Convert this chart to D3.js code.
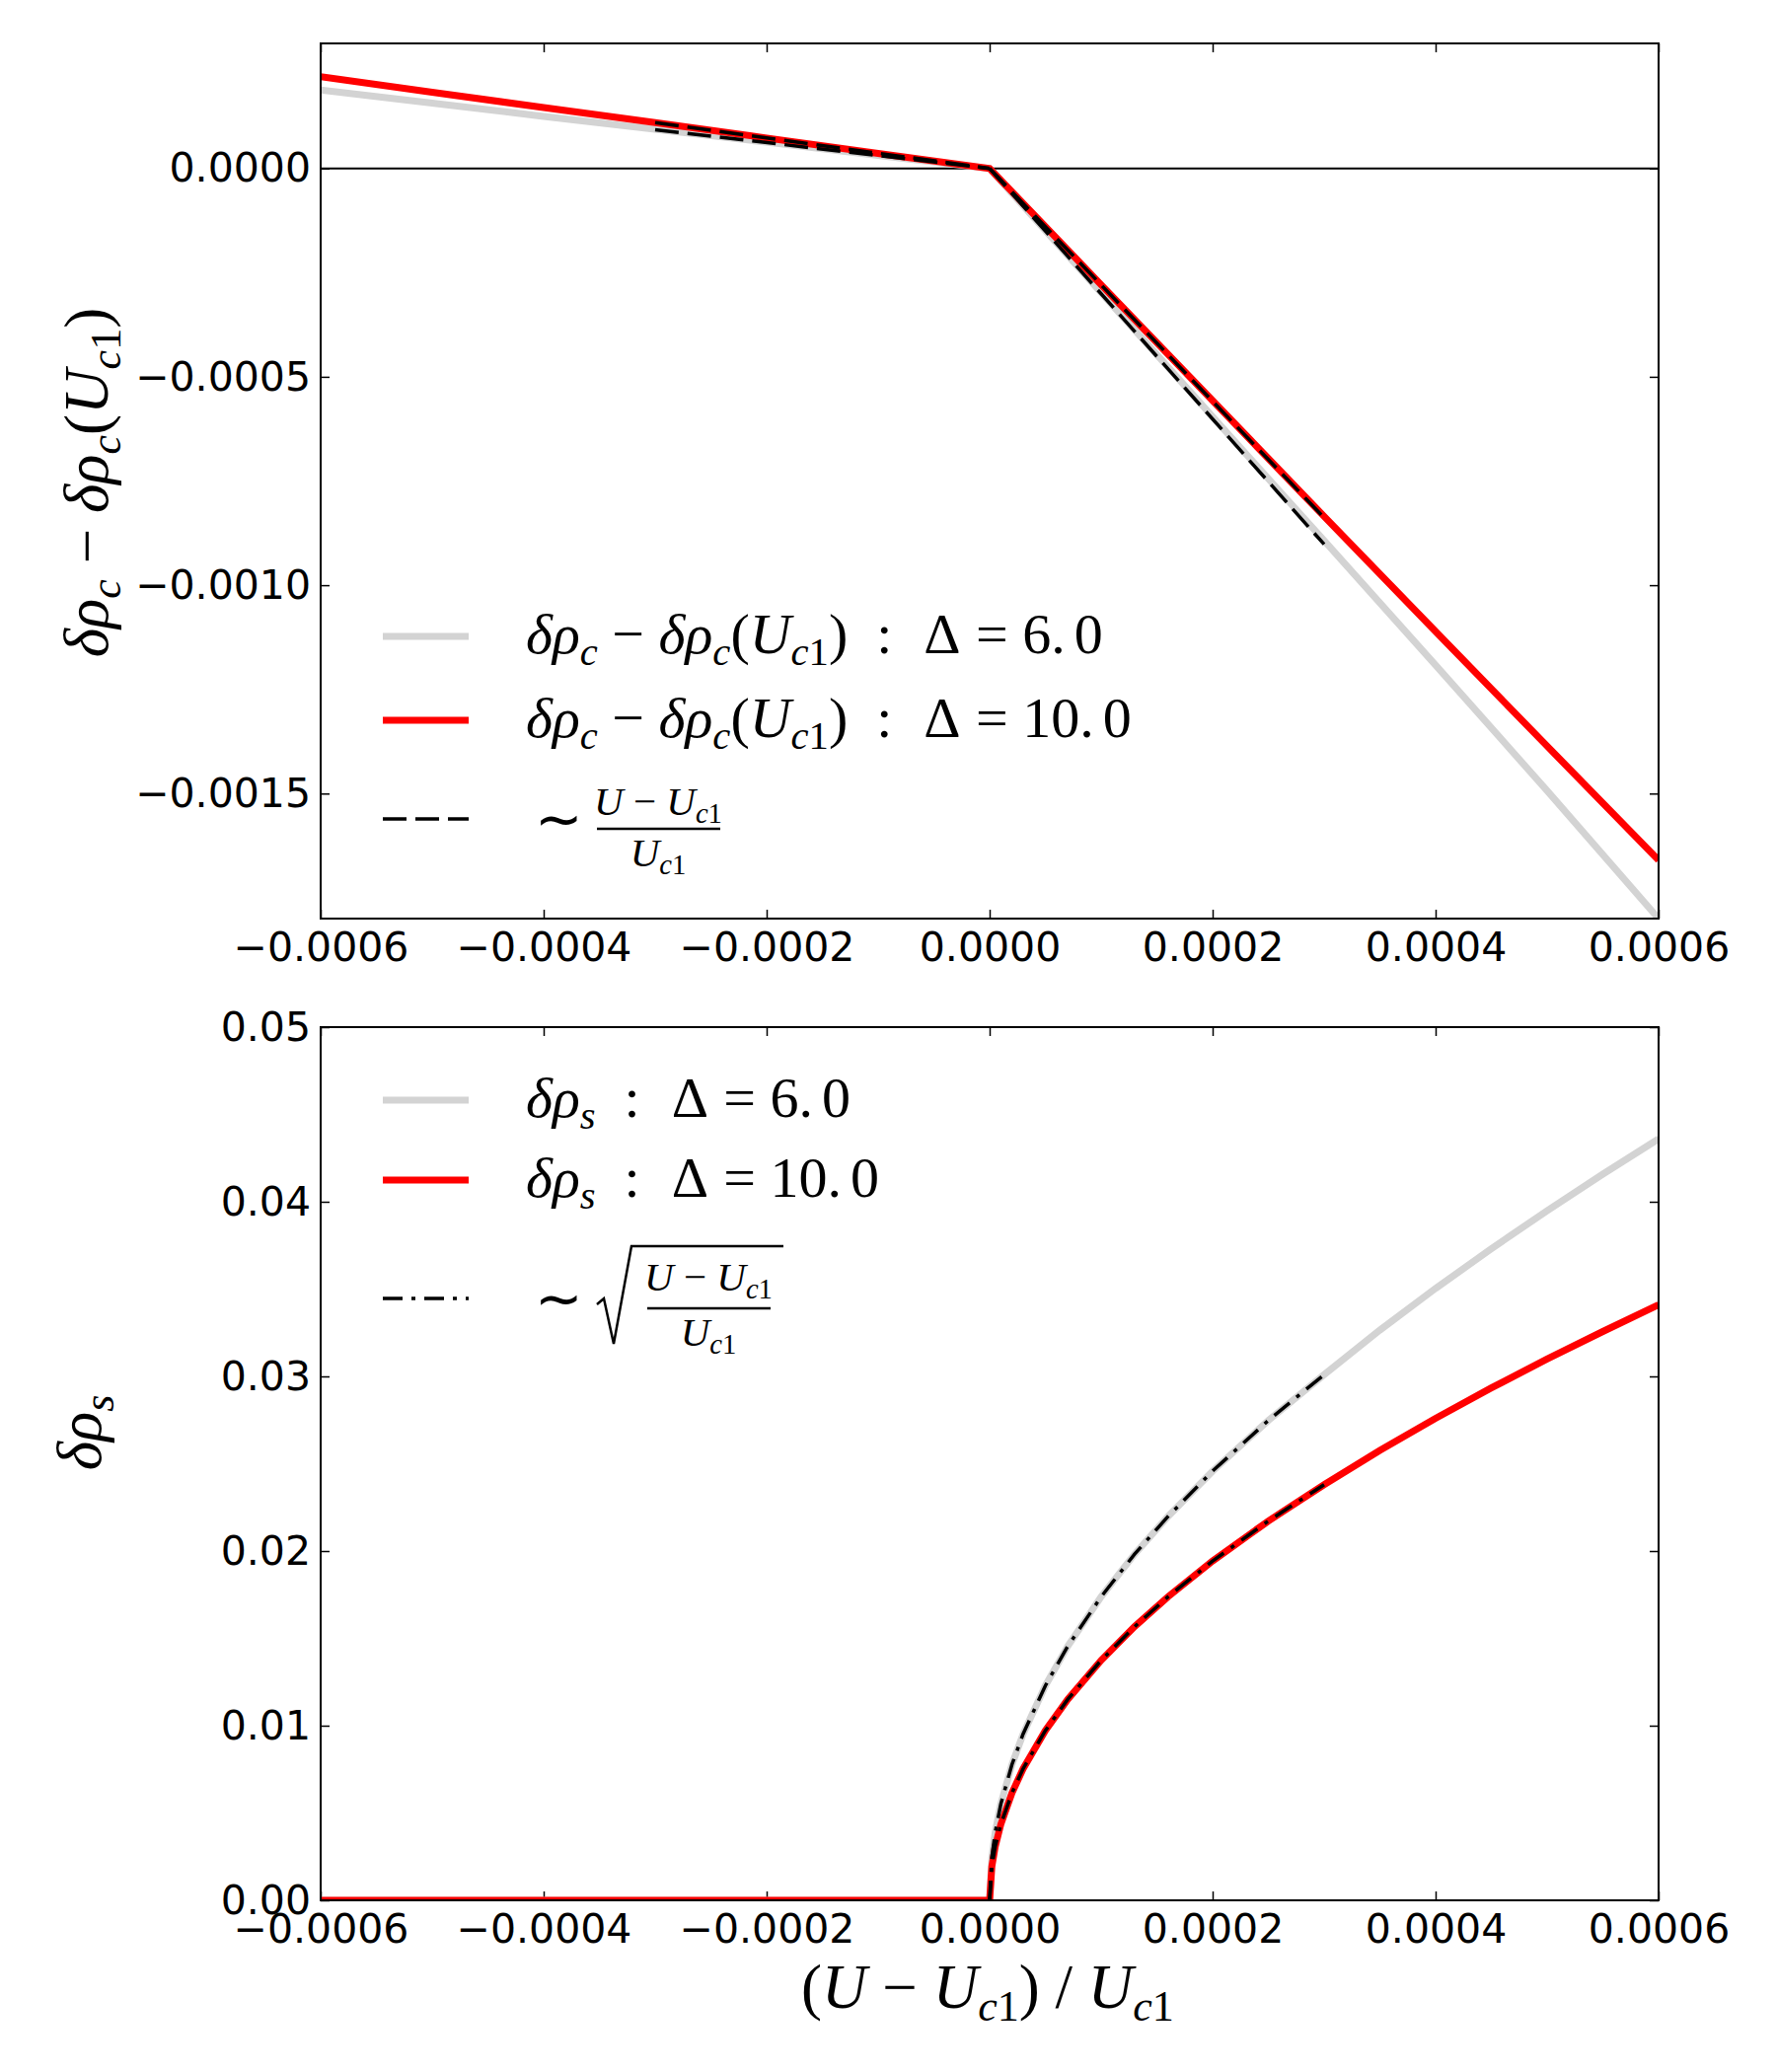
<!DOCTYPE html>
<html>
<head>
<meta charset="utf-8">
<script src="https://cdn.jsdelivr.net/npm/d3@7"></script>
<style>
  body { margin: 0; background: #fff; }
  text { white-space: pre; }
</style>
</head>
<body>
<div id="chart"></div>
<script>
// ---- data ----
const xTicks = [-0.0006, -0.0004, -0.0002, 0, 0.0002, 0.0004, 0.0006];
const cTicks = [0, -0.0005, -0.001, -0.0015];
const sTicks = [0, 0.01, 0.02, 0.03, 0.04, 0.05];

// top panel: delta rho_c - delta rho_c(Uc1)
const cX = [-0.0006, -0.0005, -0.0004, -0.0003, -0.0002, -0.0001, 0, 0.0001, 0.0002, 0.0003, 0.0004, 0.0005, 0.0006];
const cGrey = [0.000188, 0.000157, 0.000125, 0.000094, 0.000063, 0.000031, 0, -0.000298, -0.000596, -0.000893, -0.001192, -0.001493, -0.0018];
const cRed = [0.00022, 0.000183, 0.000146, 0.00011, 0.000073, 0.000036, 0, -0.000279, -0.000557, -0.000835, -0.001111, -0.001386, -0.00166];
const cFitLeftX = [-0.0003, 0];
const cFitRightX = [0, 0.0003];
const cFitGreyLeft = [0.000093, 0];
const cFitGreyRight = [0, -0.000902];
const cFitRedLeft = [0.00011, 0];
const cFitRedRight = [0, -0.000838];

// bottom panel: delta rho_s
const sX = [-0.0006, -0.0004, -0.0002, 0, 0.000002, 0.000005, 0.00001, 0.00002, 0.00003, 0.00005, 0.00007, 0.0001, 0.00013, 0.00016, 0.0002, 0.00025, 0.0003, 0.00035, 0.0004, 0.00045, 0.0005, 0.00055, 0.0006];
const sGrey = [0, 0, 0, 0, 0.00246, 0.00389, 0.0055, 0.00777, 0.00952, 0.01229, 0.01454, 0.01738, 0.01982, 0.02198, 0.02458, 0.02748, 0.0301, 0.03265, 0.03504, 0.03731, 0.03949, 0.04158, 0.0436];
const sRed = [0, 0, 0, 0, 0.00194, 0.00307, 0.00434, 0.00614, 0.00753, 0.00972, 0.0115, 0.01374, 0.01567, 0.01738, 0.01943, 0.02172, 0.0238, 0.02576, 0.0276, 0.02934, 0.03099, 0.03257, 0.0341];
const sFitX = [0, 0.000002, 0.000005, 0.00001, 0.00002, 0.00003, 0.00005, 0.00007, 0.0001, 0.00013, 0.00016, 0.0002, 0.00025, 0.0003];
const sFitGrey = [0, 0.00246, 0.00389, 0.0055, 0.00777, 0.00952, 0.01229, 0.01454, 0.01738, 0.01982, 0.02198, 0.02458, 0.02748, 0.0301];
const sFitRed = [0, 0.00194, 0.00307, 0.00434, 0.00614, 0.00753, 0.00972, 0.0115, 0.01374, 0.01567, 0.01738, 0.01943, 0.02172, 0.0238];

// ---- layout ----
const width = 1800, height = 2100;
const left = 325, right = 1681;
const panels = {
  top: { y0: 44, y1: 931 },
  bot: { y0: 1041, y1: 1926 }
};
const GREY = "#d3d3d3", RED = "#ff0000";
const SANS = "'DejaVu Sans', sans-serif";
const SERIF = "'Liberation Serif', 'Times New Roman', serif";

const svg = d3.select("#chart").append("svg")
  .attr("width", width)
  .attr("height", height)
  .style("background", "#fff");

const x = d3.scaleLinear().domain([-0.0006, 0.0006]).range([left, right]);
const yC = d3.scaleLinear().domain([-0.0018, 0.0003]).range([panels.top.y1, panels.top.y0]);
const yS = d3.scaleLinear().domain([0, 0.05]).range([panels.bot.y1, panels.bot.y0]);

const zip = (xs, ys) => xs.map((v, i) => [v, ys[i]]);

// math-ish text: parts = [[string, flags, dx]]; flags: i = italic, s = subscript
function mathText(sel, tx, ty, parts, size, anchor, rot) {
  const t = sel.append("text")
    .attr("x", tx).attr("y", ty)
    .attr("font-family", SERIF)
    .attr("font-size", size)
    .attr("text-anchor", anchor || "start");
  if (rot) t.attr("transform", `rotate(${rot},${tx},${ty})`);
  let shifted = false;
  parts.forEach(([s, f, dx]) => {
    const sp = t.append("tspan").text(s);
    const sub = f.includes("s");
    if (f.includes("i")) sp.attr("font-style", "italic");
    if (sub) sp.attr("font-size", size * 0.7);
    if (sub && !shifted) { sp.attr("dy", size * 0.2); shifted = true; }
    else if (!sub && shifted) { sp.attr("dy", -size * 0.2); shifted = false; }
    if (dx) sp.attr("dx", dx);
  });
  return t;
}

function drawPanel(key, y, yTicks, yFmt) {
  const p = panels[key];
  const g = svg.append("g");

  g.append("clipPath").attr("id", "clip-" + key)
    .append("rect")
    .attr("x", left).attr("y", p.y0)
    .attr("width", right - left).attr("height", p.y1 - p.y0);

  const xb = d3.axisBottom(x).tickValues(xTicks).tickFormat(d3.format(".4f"))
    .tickSizeInner(-9).tickSizeOuter(0).tickPadding(14);
  const xt = d3.axisTop(x).tickValues(xTicks).tickFormat("").tickSizeInner(-9).tickSizeOuter(0);
  const yl = d3.axisLeft(y).tickValues(yTicks).tickFormat(d3.format(yFmt))
    .tickSizeInner(-9).tickSizeOuter(0).tickPadding(10);
  const yr = d3.axisRight(y).tickValues(yTicks).tickFormat("").tickSizeInner(-9).tickSizeOuter(0);

  const axes = [
    [xb, `translate(0,${p.y1})`],
    [xt, `translate(0,${p.y0})`],
    [yl, `translate(${left},0)`],
    [yr, `translate(${right},0)`]
  ];
  axes.forEach(([ax, tr]) => {
    const a = g.append("g").attr("transform", tr).call(ax);
    a.select(".domain").remove();
    a.selectAll(".tick line").attr("stroke", "#000").attr("stroke-width", 1.5);
    a.selectAll(".tick text")
      .attr("font-family", SANS)
      .attr("font-size", 41)
      .attr("fill", "#000");
  });

  const plot = g.append("g").attr("clip-path", `url(#clip-${key})`);
  g.append("rect")
    .attr("x", left).attr("y", p.y0)
    .attr("width", right - left).attr("height", p.y1 - p.y0)
    .attr("fill", "none").attr("stroke", "#000").attr("stroke-width", 2);
  return plot;
}

const line = (yScale) => d3.line().x(d => x(d[0])).y(d => yScale(d[1]));

// ---- top panel ----
const topPlot = drawPanel("top", yC, cTicks, ".4f");
topPlot.append("line")
  .attr("x1", left).attr("x2", right)
  .attr("y1", yC(0)).attr("y2", yC(0))
  .attr("stroke", "#000").attr("stroke-width", 2);

topPlot.append("path").datum(zip(cX, cGrey))
  .attr("d", line(yC)).attr("fill", "none").attr("stroke", GREY).attr("stroke-width", 7);
topPlot.append("path").datum(zip(cX, cRed))
  .attr("d", line(yC)).attr("fill", "none").attr("stroke", RED).attr("stroke-width", 7);

[[cFitLeftX, cFitGreyLeft], [cFitRightX, cFitGreyRight], [cFitLeftX, cFitRedLeft], [cFitRightX, cFitRedRight]]
  .forEach(([xs, ys]) => {
    topPlot.append("path").datum(zip(xs, ys))
      .attr("d", line(yC)).attr("fill", "none")
      .attr("stroke", "#000").attr("stroke-width", 3.5)
      .attr("stroke-dasharray", "24,9");
  });

// ---- bottom panel ----
const botPlot = drawPanel("bot", yS, sTicks, ".2f");
botPlot.append("path").datum(zip(sX, sGrey))
  .attr("d", line(yS)).attr("fill", "none").attr("stroke", GREY).attr("stroke-width", 7);
botPlot.append("path").datum(zip(sX, sRed))
  .attr("d", line(yS)).attr("fill", "none").attr("stroke", RED).attr("stroke-width", 7);
[sFitGrey, sFitRed].forEach(ys => {
  botPlot.append("path").datum(zip(sFitX, ys))
    .attr("d", line(yS)).attr("fill", "none")
    .attr("stroke", "#000").attr("stroke-width", 3.5)
    .attr("stroke-dasharray", "20,9,4,9");
});

// ---- legends ----
const LS = 58;
function handle(yy, color, w, dash) {
  const l = svg.append("line")
    .attr("x1", 388).attr("x2", 475).attr("y1", yy).attr("y2", yy)
    .attr("stroke", color).attr("stroke-width", w);
  if (dash) l.attr("stroke-dasharray", dash);
}

const rhoCLabel = [["δρ", "i"], ["c", "is"], [" − ", ""], ["δρ", "i"], ["c", "is"], ["(", ""], ["U", "i"], ["c", "is"], ["1", "s"], [")", ""]];
const tail = (num) => [["  :  ", ""], ["Δ", "", 3], [" = ", "", 4], [num + ".", ""], ["0", "", 9]];

handle(645, GREY, 7);
mathText(svg, 533, 645 + LS * 0.3, rhoCLabel.concat(tail("6")), LS);
handle(730, RED, 7);
mathText(svg, 533, 730 + LS * 0.3, rhoCLabel.concat(tail("10")), LS);
handle(830, "#000", 3.5, "24,9");
mathText(svg, 542, 833 + LS * 0.3, [["∼", ""]], LS);
mathText(svg, 667, 812 + 14, [["U", "i"], [" − ", ""], ["U", "i"], ["c", "is"], ["1", "s"]], 41, "middle");
svg.append("line").attr("x1", 605).attr("x2", 730).attr("y1", 840).attr("y2", 840)
  .attr("stroke", "#000").attr("stroke-width", 2.5);
mathText(svg, 667, 864 + 14, [["U", "i"], ["c", "is"], ["1", "s"]], 41, "middle");

handle(1115, GREY, 7);
mathText(svg, 533, 1115 + LS * 0.3, [["δρ", "i"], ["s", "is"]].concat(tail("6")), LS);
handle(1196, RED, 7);
mathText(svg, 533, 1196 + LS * 0.3, [["δρ", "i"], ["s", "is"]].concat(tail("10")), LS);
handle(1316, "#000", 3.5, "20,9,4,9");
mathText(svg, 542, 1319 + LS * 0.3, [["∼", ""]], LS);
svg.append("path")
  .attr("d", "M605,1322 L612,1316 L622,1362 L640,1263 L794,1263")
  .attr("fill", "none").attr("stroke", "#000").attr("stroke-width", 2.5);
mathText(svg, 718, 1294 + 14, [["U", "i"], [" − ", ""], ["U", "i"], ["c", "is"], ["1", "s"]], 41, "middle");
svg.append("line").attr("x1", 656).attr("x2", 781).attr("y1", 1326).attr("y2", 1326)
  .attr("stroke", "#000").attr("stroke-width", 2.5);
mathText(svg, 718, 1350 + 14, [["U", "i"], ["c", "is"], ["1", "s"]], 41, "middle");

// ---- axis titles ----
mathText(svg, 90 + 19, 489, rhoCLabel, 63, "middle", -90);
mathText(svg, 83 + 19, 1452, [["δρ", "i"], ["s", "is"]], 63, "middle", -90);
mathText(svg, 1001, 2023 + 12, [["(", ""], ["U", "i"], [" − ", ""], ["U", "i"], ["c", "is"], ["1", "s"], [")", ""], [" / ", ""], ["U", "i"], ["c", "is"], ["1", "s"]], 63, "middle");
</script>
</body>
</html>
